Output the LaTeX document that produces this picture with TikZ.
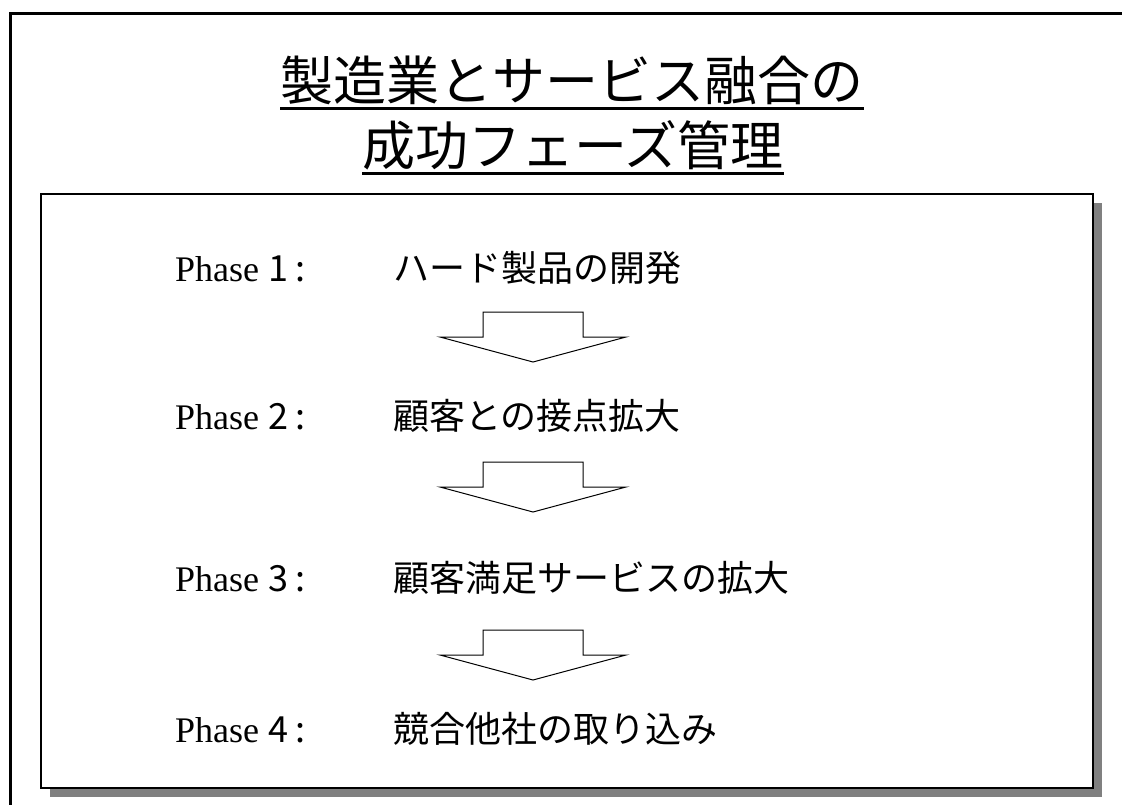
\documentclass[tikz,border=0pt]{standalone}
\usepackage{fontspec}
\setmainfont{Liberation Serif}
\newfontfamily\jp{Noto Sans CJK JP}
\definecolor{shadowgray}{RGB}{128,128,128}
\tikzset{
  frameline/.style={line width=3pt, line cap=rect},
  boxshadow/.style={fill=shadowgray, draw=none},
  mainbox/.style={draw=black, fill=white, line width=1.6pt},
  titletext/.style={font=\jp\fontsize{53}{60}\selectfont, inner sep=0pt},
  uline/.style={line width=3pt},
  phaselbl/.style={font=\fontsize{36}{40}\selectfont, inner sep=0pt},
  phasejp/.style={font=\jp\fontsize{36}{40}\selectfont, inner sep=0pt},
  blockarrow/.style={draw=black, fill=white, line width=1pt, line join=miter},
  downarrow/.pic={
    \draw[blockarrow] (-50,0) -- (50,0) -- (50,25) -- (93,25) -- (0,50)
      -- (-93,25) -- (-50,25) -- cycle;
  }
}
\begin{document}
\begin{tikzpicture}[x=1pt,y=-1pt]
\useasboundingbox (0,0) rectangle (1122,804);
\fill[white] (0,0) rectangle (1122,804);
% outer frame (left and top)
\draw[frameline] (10,804) -- (10,13) -- (1122,13);
% main box with shadow
\path[boxshadow] (50,203) rectangle (1102,797);
\path[mainbox] (41,194) rectangle (1093,788);
% title
\node[titletext, anchor=base] (t1) at (572,100) {製造業とサービス融合の};
\draw[uline] ([yshift=-8pt]t1.base west) -- ([yshift=-8pt]t1.base east);
\node[titletext, anchor=base] (t2) at (573,165) {成功フェーズ管理};
\draw[uline] ([yshift=-8pt]t2.base west) -- ([yshift=-8pt]t2.base east);
% phases
\node[phaselbl, anchor=base west] (p1) at (175,281) {Phase {\jp 1\hspace{7pt}:}};
\node[phasejp, anchor=base west] (j1) at (393,281) {ハード製品の開発};
\node[phaselbl, anchor=base west] (p2) at (175,429) {Phase {\jp 2\hspace{7pt}:}};
\node[phasejp, anchor=base west] (j2) at (393,429) {顧客との接点拡大};
\node[phaselbl, anchor=base west] (p3) at (175,591) {Phase {\jp 3\hspace{7pt}:}};
\node[phasejp, anchor=base west] (j3) at (393,591) {顧客満足サービスの拡大};
\node[phaselbl, anchor=base west] (p4) at (175,742) {Phase {\jp 4\hspace{7pt}:}};
\node[phasejp, anchor=base west] (j4) at (393,742) {競合他社の取り込み};
% block arrows
\pic at (533,312) {downarrow};
\pic at (533,462) {downarrow};
\pic at (533,630) {downarrow};
\end{tikzpicture}
\end{document}
